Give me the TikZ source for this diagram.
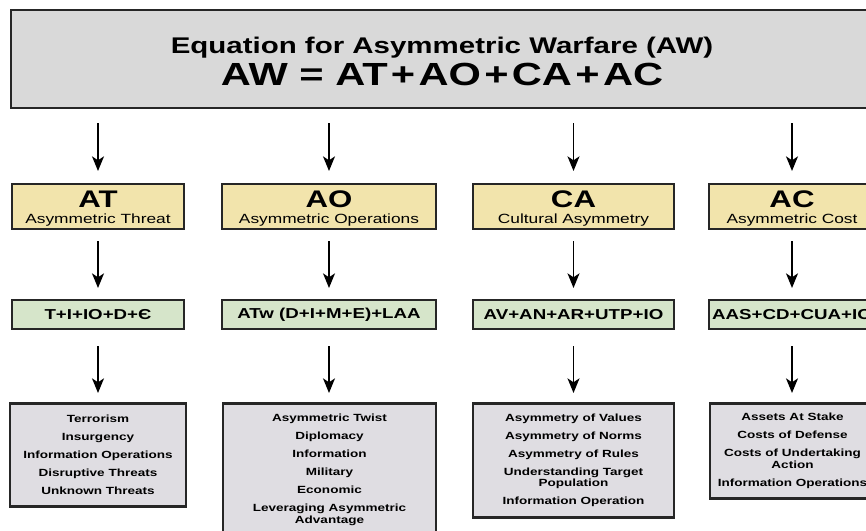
\documentclass[tikz,border=0pt]{standalone}
\usepackage{fontspec}
\setmainfont{Liberation Sans}[FakeStretch=1.3]
\usetikzlibrary{arrows.meta}
\definecolor{eqgray}{RGB}{217,217,217}
\definecolor{hdrtan}{RGB}{242,228,172}
\definecolor{formgreen}{RGB}{214,229,202}
\definecolor{listgray}{RGB}{223,221,226}

\begin{document}
\begin{tikzpicture}[x=0.75pt,y=-0.75pt,
  eqbox/.style={draw=black!85,line width=2pt,fill=eqgray,inner sep=0pt,
    minimum width=646.5pt,minimum height=73.5pt,align=center,
    font=\fontsize{17}{24}\selectfont\bfseries},
  hdrbox/.style={draw=black!85,line width=1.5pt,fill=hdrtan,inner sep=0pt,
    minimum height=33.75pt,align=center,font=\fontsize{10}{12}\selectfont},
  formbox/.style={draw=black!85,line width=1.5pt,fill=formgreen,inner sep=0pt,
    minimum height=21.75pt,font=\fontsize{10.8}{12}\selectfont\bfseries},
  listbox/.style={draw=black!85,line width=2pt,fill=listgray,inner sep=0pt,
    anchor=north,align=center,font=\fontsize{7.8}{8.6}\selectfont\bfseries},
  down/.style={line width=1.1pt,-{Stealth[length=11pt,width=9pt,inset=3pt]}}]
  \useasboundingbox (0,0) rectangle (866,531);
  \clip (0,0) rectangle (866,531);

  \node[eqbox] (eq) at (442,59) {\rule{0pt}{16.5pt}Equation for Asymmetric Warfare (AW)\\
    {\fontsize{24}{24}\selectfont AW = AT\kern2.5pt+\kern2.5pt AO\kern2.5pt+\kern2.5pt CA\kern2.5pt+\kern2.5pt AC}};

  % headers
  \node[hdrbox,minimum width=129pt] (at) at (98,206.5)
    {\rule{0pt}{15pt}{\fontsize{18}{12}\selectfont\bfseries AT}\\Asymmetric Threat};
  \node[hdrbox,minimum width=160.5pt] (ao) at (329,206.5)
    {\rule{0pt}{15pt}{\fontsize{18}{12}\selectfont\bfseries AO}\\Asymmetric Operations};
  \node[hdrbox,minimum width=150.75pt] (ca) at (573.5,206.5)
    {\rule{0pt}{15pt}{\fontsize{18}{12}\selectfont\bfseries CA}\\Cultural Asymmetry};
  \node[hdrbox,minimum width=124.5pt] (ac) at (792,206.5)
    {\rule{0pt}{15pt}{\fontsize{18}{12}\selectfont\bfseries AC}\\Asymmetric Cost};

  % formulas
  \node[formbox,minimum width=129pt] (atf) at (98,314.5) {T+I+IO+D+Є};
  \node[formbox,minimum width=160.5pt] (aof) at (329,314.5) {ATw (D+I+M+E)+LAA};
  \node[formbox,minimum width=150.75pt] (caf) at (573.5,314.5) {AV+AN+AR+UTP+IO};
  \node[formbox,minimum width=124.5pt] (acf) at (792,314.5) {AAS+CD+CUA+IO};

  % lists
  \node[listbox,minimum width=132pt,minimum height=77.25pt] (atl) at (98,402)
    {Terrorism\\[4.9pt]Insurgency\\[4.9pt]Information Operations\\[4.9pt]
     Disruptive Threats\\[4.9pt]Unknown Threats};
  \node[listbox,minimum width=159.75pt,minimum height=99.75pt] (aol) at (329.5,402)
    {Asymmetric Twist\\[4.9pt]Diplomacy\\[4.9pt]Information\\[4.9pt]Military\\[4.9pt]
     Economic\\[4.9pt]Leveraging Asymmetric\\Advantage};
  \node[listbox,minimum width=150.75pt,minimum height=85.5pt] (cal) at (573.5,402)
    {Asymmetry of Values\\[4.9pt]Asymmetry of Norms\\[4.9pt]Asymmetry of Rules\\[4.9pt]
     Understanding Target\\Population\\[4.9pt]Information Operation};
  \node[listbox,minimum width=123.75pt,minimum height=71.25pt] (acl) at (792.5,402)
    {Assets At Stake\\[4.9pt]Costs of Defense\\[4.9pt]Costs of Undertaking\\Action\\[4.9pt]
     Information Operations};

  % arrows
  \path[down,shorten <=10.5pt,shorten >=9pt] (eq.south -| at.north) edge (at.north);
  \path[down,shorten <=10.5pt,shorten >=9pt] (eq.south -| ao.north) edge (ao.north);
  \path[down,shorten <=10.5pt,shorten >=9pt] (eq.south -| ca.north) edge (ca.north);
  \path[down,shorten <=10.5pt,shorten >=9pt] (eq.south -| ac.north) edge (ac.north);
  \path[down,shorten <=8.25pt,shorten >=8.25pt] (at.south) edge (atf.north);
  \path[down,shorten <=8.25pt,shorten >=8.25pt] (ao.south) edge (aof.north);
  \path[down,shorten <=8.25pt,shorten >=8.25pt] (ca.south) edge (caf.north);
  \path[down,shorten <=8.25pt,shorten >=8.25pt] (ac.south) edge (acf.north);
  \path[down,shorten <=12pt,shorten >=6.75pt] (atf.south) edge (atf.south |- atl.north);
  \path[down,shorten <=12pt,shorten >=6.75pt] (aof.south) edge (aof.south |- aol.north);
  \path[down,shorten <=12pt,shorten >=6.75pt] (caf.south) edge (caf.south |- cal.north);
  \path[down,shorten <=12pt,shorten >=6.75pt] (acf.south) edge (acf.south |- acl.north);
\end{tikzpicture}
\end{document}
